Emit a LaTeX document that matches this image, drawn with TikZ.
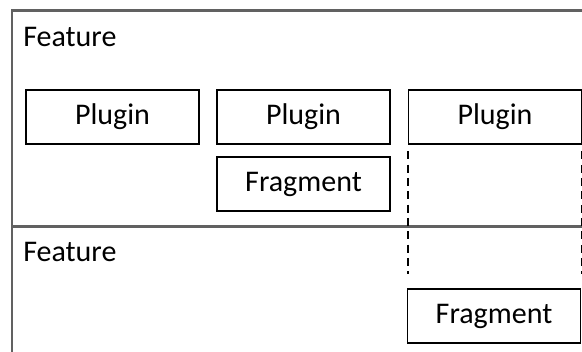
\documentclass[tikz,border=0pt]{standalone}
\usepackage{fontspec}
\setmainfont{Carlito}
\usetikzlibrary{positioning}

\begin{document}
\begin{tikzpicture}[x=0.75pt, y=-0.75pt, every node/.style={font=\fontsize{22.5}{27}\selectfont},
    box/.style={draw, line width=1pt, minimum width=129.75pt, minimum height=40.5pt, inner sep=0pt},
    frame/.style={draw=black!62, line width=1.6pt},
    link/.style={line width=1.8pt, dash pattern=on 6pt off 4pt}]
            \useasboundingbox (0,0) rectangle (582,352);
            \node[box] at (112.5, 117)   (p1) {Plugin};
            \node[box] at (303.5, 117)   (p2) {Plugin};
            \node[box] at (495, 117)   (p3) {Plugin};
            \node[box] at (303.5, 184)   (f1) {Fragment};
            \node[box] at (494, 316)   (f2) {Fragment};
            \node[anchor=base west, inner sep=0pt] at (23, 47)   (feat1) {Feature};
            \node[anchor=base west, inner sep=0pt] at (23, 262)   (feat2) {Feature};

            \draw [frame] (582, 10.5) -- (12, 10.5) -- (12, 352);
            \draw [frame] (12, 226.5) -- (582, 226.5);
            \draw [link] ([yshift=-5pt]p3.south west) -- ([yshift=10.5pt]f2.north west -| p3.south west);
            \draw [link] ([yshift=-5pt]p3.south east) -- ([yshift=10.5pt]f2.north east -| p3.south east);
        \end{tikzpicture}
\end{document}
